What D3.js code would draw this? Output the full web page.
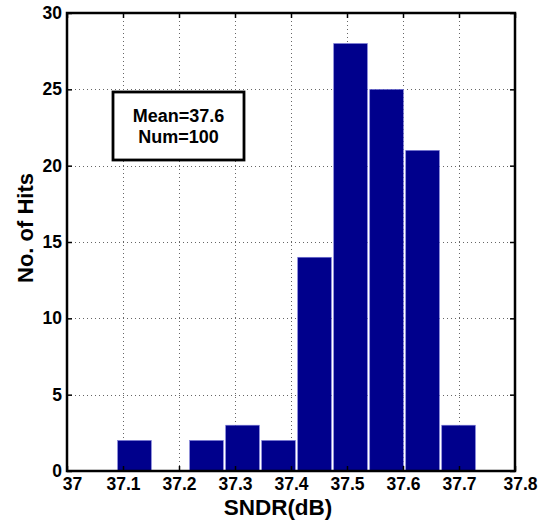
<!DOCTYPE html>
<html>
<head>
<meta charset="utf-8">
<script src="https://cdn.jsdelivr.net/npm/d3@7"></script>
<style>
  html, body { margin: 0; padding: 0; background: #fff; }
  svg { display: block; }
  text { font-family: "Liberation Sans", Arial, Helvetica, sans-serif; font-weight: bold; fill: #000; }
</style>
</head>
<body>
<svg id="chart" width="546" height="522"></svg>
<script>
// ---- data ----
const binCenters = [37.1205, 37.1848, 37.2491, 37.3134, 37.3777, 37.4420, 37.5063, 37.5706, 37.6349, 37.6992];
const hits       = [2, 0, 2, 3, 2, 14, 28, 25, 21, 3];
const binWidth   = 0.0643;
const xTicks     = [37, 37.1, 37.2, 37.3, 37.4, 37.5, 37.6, 37.7, 37.8];
const yTicks     = [0, 5, 10, 15, 20, 25, 30];
const legendLines = ["Mean=37.6", "Num=100"];
const xTitle = "SNDR(dB)";
const yTitle = "No. of Hits";

// ---- layout ----
const L = 67, R = 515, T = 13, B = 471;
const svg = d3.select("#chart");
svg.append("rect").attr("width", 546).attr("height", 522).attr("fill", "#fff");

const x = d3.scaleLinear().domain([37, 37.8]).range([L, R]);
const y = d3.scaleLinear().domain([0, 30]).range([B, T]);

// grid
const grid = svg.append("g").attr("stroke", "#666").attr("stroke-width", 1).attr("stroke-dasharray", "1,3");
grid.selectAll("line.v").data(xTicks.slice(1, -1)).join("line")
  .attr("x1", d => Math.round(x(d)) + 0.5).attr("x2", d => Math.round(x(d)) + 0.5)
  .attr("y1", T).attr("y2", B);
grid.selectAll("line.h").data(yTicks.slice(1, -1)).join("line")
  .attr("y1", d => Math.round(y(d)) + 0.5).attr("y2", d => Math.round(y(d)) + 0.5)
  .attr("x1", L).attr("x2", R);

// bars
const bars = binCenters.map((c, i) => ({ c, n: hits[i] })).filter(d => d.n > 0);
svg.append("g").selectAll("rect").data(bars).join("rect")
  .attr("x", d => x(d.c - binWidth / 2) + 1.2)
  .attr("width", d => x(d.c + binWidth / 2) - x(d.c - binWidth / 2) - 2.4)
  .attr("y", d => y(d.n))
  .attr("height", d => y(0) - y(d.n))
  .attr("fill", "#00008c")
  .attr("stroke", "#7a7ad8")
  .attr("stroke-width", 0.6);

// axes
const fmt = d => String(+d.toFixed(1));
const gx = svg.append("g").attr("transform", `translate(0,${B})`)
  .call(d3.axisBottom(x).tickValues(xTicks).tickSize(-5).tickPadding(7).tickFormat(fmt));
const gy = svg.append("g").attr("transform", `translate(${L},0)`)
  .call(d3.axisLeft(y).tickValues(yTicks).tickSize(-5).tickPadding(5).tickFormat(fmt));
const gt = svg.append("g").attr("transform", `translate(0,${T})`)
  .call(d3.axisTop(x).tickValues(xTicks).tickSize(-5).tickFormat(""));
const gr = svg.append("g").attr("transform", `translate(${R},0)`)
  .call(d3.axisRight(y).tickValues(yTicks).tickSize(-5).tickFormat(""));
[gx, gy, gt, gr].forEach(g => {
  g.select(".domain").remove();
  g.selectAll(".tick line").attr("stroke", "#000").attr("stroke-width", 1.5);
  g.selectAll("text").attr("font-size", 17.5).attr("font-family", null).attr("fill", "#000");
});
// first and last x labels sit slightly inward/outward as in the reference
gx.selectAll(".tick text").attr("dx", d => (d === 37 || d === 37.8) ? 5 : 0);

// frame
svg.append("rect").attr("x", L).attr("y", T).attr("width", R - L).attr("height", B - T)
  .attr("fill", "none").attr("stroke", "#000").attr("stroke-width", 2.5);

// titles
svg.append("text").attr("x", 278).attr("y", 515).attr("text-anchor", "middle")
  .attr("font-size", 22.5).text(xTitle);
svg.append("text").attr("transform", "translate(33,228) rotate(-90)").attr("text-anchor", "middle")
  .attr("font-size", 22).text(yTitle);

// legend box
svg.append("rect").attr("x", 113).attr("y", 92).attr("width", 131).attr("height", 68)
  .attr("fill", "#fff").attr("stroke", "#000").attr("stroke-width", 2.8);
svg.append("g").selectAll("text").data(legendLines).join("text")
  .attr("x", 178.5).attr("y", (d, i) => 122 + i * 21).attr("text-anchor", "middle")
  .attr("font-size", 18).text(d => d);
</script>
</body>
</html>
